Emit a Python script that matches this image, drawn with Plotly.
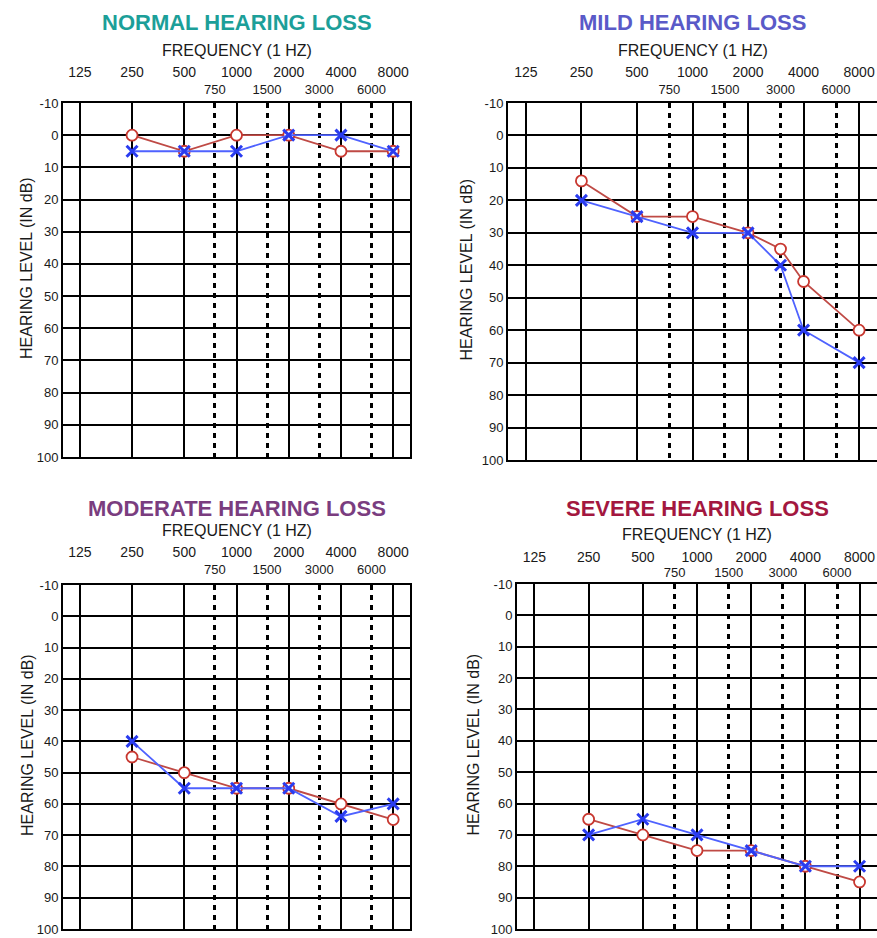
import plotly.graph_objects as go

# ---------------- data ----------------
FREQ_MAIN = [125, 250, 500, 1000, 2000, 4000, 8000]
FREQ_MID = [750, 1500, 3000, 6000]
DB_TICKS = list(range(-10, 101, 10))

TITLES = ["NORMAL HEARING LOSS", "MILD HEARING LOSS", "MODERATE HEARING LOSS", "SEVERE HEARING LOSS"]

normal_freq = [250, 500, 1000, 2000, 4000, 8000]
normal_red = [0, 5, 0, 0, 5, 5]
normal_blue = [5, 5, 5, 0, 0, 5]

mild_freq = [250, 500, 1000, 2000, 3000, 4000, 8000]
mild_red = [14, 25, 25, 30, 35, 45, 60]
mild_blue = [20, 25, 30, 30, 40, 60, 70]

moderate_freq = [250, 500, 1000, 2000, 4000, 8000]
moderate_red = [45, 50, 55, 55, 60, 65]
moderate_blue = [40, 55, 55, 55, 64, 60]

severe_freq = [250, 500, 1000, 2000, 4000, 8000]
severe_red = [65, 70, 75, 75, 80, 85]
severe_blue = [70, 65, 70, 75, 80, 80]

# ---------------- styling / layout ----------------
W, H = 877, 938
FONT = "Liberation Sans, Arial, sans-serif"
TXT = "#1a1a1a"
RED_LINE = "#bf4a45"
RED_MK = "#c8372f"
BLUE_LINE = "#4f62ff"
BLUE_MK = "#2a3cf0"

panels = [
    dict(freq=normal_freq, red=normal_red, blue=normal_blue, tcolor="#1c9f99",
         box=(63, 410, 103, 457), title_y=22, freq_y=50, ytitle_x=26, so1=18, so2=5),
    dict(freq=mild_freq, red=mild_red, blue=mild_blue, tcolor="#5a5ac8",
         box=(508, 877, 103, 460), title_y=22, freq_y=50, ytitle_x=466, so1=18, so2=5),
    dict(freq=moderate_freq, red=moderate_red, blue=moderate_blue, tcolor="#7a3d7f",
         box=(63, 410, 585, 929), title_y=508, freq_y=530, ytitle_x=27, so1=20, so2=7),
    dict(freq=severe_freq, red=severe_red, blue=severe_blue, tcolor="#a3173f",
         box=(517, 877, 584, 929), title_y=509, freq_y=534, ytitle_x=473, so1=14, so2=3),
]

fig = go.Figure()
layout = dict(
    width=W, height=H, margin=dict(l=0, r=0, t=0, b=0),
    paper_bgcolor="white", plot_bgcolor="white",
    showlegend=False, template="none",
    font=dict(family=FONT, color=TXT),
    annotations=[],
)

for i, p in enumerate(panels):
    n = i + 1
    xa = "x" if n == 1 else f"x{n}"
    ya = "y" if n == 1 else f"y{n}"
    xo = f"x{n + 4}"
    x0, x1, y0, y1 = p["box"]
    xdom = [x0 / W, x1 / W]
    ydom = [1 - y1 / H, 1 - y0 / H]

    layout["xaxis" if n == 1 else f"xaxis{n}"] = dict(
        domain=xdom, anchor=ya, type="log", range=[2, 4], side="top",
        tickvals=FREQ_MAIN, ticktext=[str(v) for v in FREQ_MAIN],
        showgrid=True, gridcolor="black", gridwidth=2,
        showline=True, mirror=True, linecolor="black", linewidth=2,
        ticks="", ticklabelstandoff=p["so1"], zeroline=False,
        ticklabeloverflow="allow",
        tickfont=dict(size=14, color=TXT, family=FONT), fixedrange=True,
    )
    layout[f"xaxis{n + 4}"] = dict(
        overlaying=xa, anchor=ya, type="log", range=[2, 4], side="top",
        tickvals=FREQ_MID, ticktext=[str(v) for v in FREQ_MID],
        showgrid=True, gridcolor="black", gridwidth=2.5, griddash="5px,5px",
        showline=False, ticks="", ticklabelstandoff=p["so2"], zeroline=False,
        ticklabeloverflow="allow",
        tickfont=dict(size=13, color=TXT, family=FONT), fixedrange=True,
    )
    layout["yaxis" if n == 1 else f"yaxis{n}"] = dict(
        domain=ydom, anchor=xa, range=[100, -10],
        tickvals=DB_TICKS, ticktext=[str(v) for v in DB_TICKS],
        showgrid=True, gridcolor="black", gridwidth=2,
        showline=True, mirror=True, linecolor="black", linewidth=2,
        ticks="", zeroline=False, ticklabeloverflow="allow",
        tickfont=dict(size=13, color=TXT, family=FONT), fixedrange=True,
    )

    # placeholder trace so the overlay axis is drawn
    fig.add_trace(go.Scatter(x=[], y=[], xaxis=xo, yaxis=ya, hoverinfo="skip"))

    fig.add_trace(go.Scatter(
        x=p["freq"], y=p["red"], xaxis=xa, yaxis=ya, mode="lines+markers",
        line=dict(color=RED_LINE, width=1.8),
        marker=dict(symbol="circle", size=11, color="white",
                    line=dict(color=RED_MK, width=1.8)),
    ))
    fig.add_trace(go.Scatter(
        x=p["freq"], y=p["blue"], xaxis=xa, yaxis=ya, mode="lines+markers",
        line=dict(color=BLUE_LINE, width=1.8),
        marker=dict(symbol="x-thin", size=11, color=BLUE_MK,
                    line=dict(color=BLUE_MK, width=3)),
    ))

    cx = (x0 + x1) / 2 / W
    layout["annotations"] += [
        dict(text=TITLES[i], x=cx, y=1 - p["title_y"] / H, xref="paper", yref="paper",
             xanchor="center", yanchor="middle", showarrow=False,
             font=dict(size=22, color=p["tcolor"], family=FONT, weight="bold")),
        dict(text="FREQUENCY (1 HZ)", x=cx, y=1 - p["freq_y"] / H, xref="paper", yref="paper",
             xanchor="center", yanchor="middle", showarrow=False,
             font=dict(size=16, color=TXT, family=FONT)),
        dict(text="HEARING LEVEL (IN dB)", x=p["ytitle_x"] / W, y=1 - ((y0 + y1) / 2 - 12) / H,
             xref="paper", yref="paper", xanchor="center", yanchor="middle",
             textangle=-90, showarrow=False,
             font=dict(size=16, color=TXT, family=FONT)),
    ]

fig.update_layout(**layout)
fig.write_html("out.html")
